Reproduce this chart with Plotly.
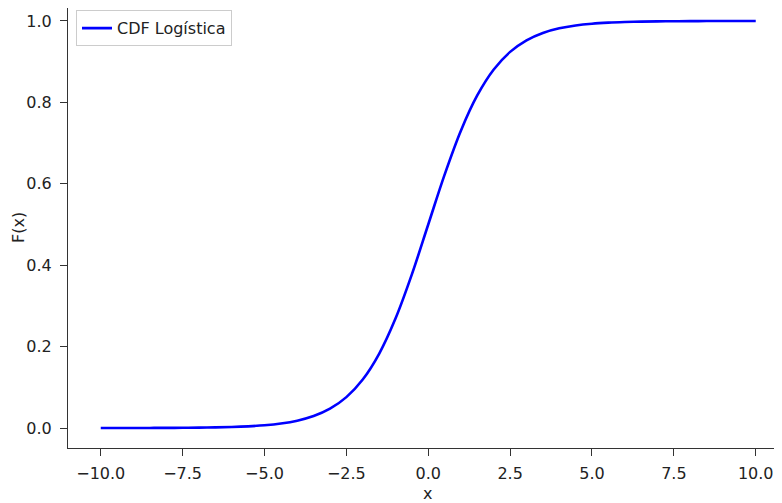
import plotly.graph_objects as go

# values
x_vals = [-10.0, -9.5, -9.0, -8.5, -8.0, -7.5, -7.0, -6.5, -6.0, -5.5, -5.0,
          -4.5, -4.0, -3.5, -3.0, -2.5, -2.0, -1.5, -1.0, -0.5, 0.0,
          0.5, 1.0, 1.5, 2.0, 2.5, 3.0, 3.5, 4.0, 4.5, 5.0,
          5.5, 6.0, 6.5, 7.0, 7.5, 8.0, 8.5, 9.0, 9.5, 10.0]
cdf_vals = [0.0000, 0.0001, 0.0001, 0.0002, 0.0003, 0.0006, 0.0009, 0.0015, 0.0025, 0.0041, 0.0067,
            0.0110, 0.0180, 0.0293, 0.0474, 0.0759, 0.1192, 0.1824, 0.2689, 0.3775, 0.5000,
            0.6225, 0.7311, 0.8176, 0.8808, 0.9241, 0.9526, 0.9707, 0.9820, 0.9890, 0.9933,
            0.9959, 0.9975, 0.9985, 0.9991, 0.9994, 0.9997, 0.9998, 0.9999, 0.9999, 1.0000]
x_ticks = [-10.0, -7.5, -5.0, -2.5, 0.0, 2.5, 5.0, 7.5, 10.0]
x_tick_labels = ["−10.0", "−7.5", "−5.0", "−2.5", "0.0", "2.5", "5.0", "7.5", "10.0"]
y_ticks = [0.0, 0.2, 0.4, 0.6, 0.8, 1.0]
y_tick_labels = ["0.0", "0.2", "0.4", "0.6", "0.8", "1.0"]
series_name = "CDF Logística"
x_title = "x"
y_title = "F(x)"

fig = go.Figure()
fig.add_trace(go.Scatter(x=x_vals, y=cdf_vals, mode="lines", name=series_name,
                         line=dict(color="#0000ff", width=2.6, shape="spline")))

font_fam = "DejaVu Sans"
fs = 16
axis_common = dict(showgrid=False, zeroline=False, showline=True, linecolor="#333333",
                   linewidth=1.2, ticks="outside", ticklen=7, tickwidth=1.1,
                   tickcolor="#333333", mirror=False, automargin=False,
                   tickfont=dict(family=font_fam, size=fs, color="#222222"))

fig.update_layout(
    width=774, height=495,
    margin=dict(l=60, r=0, t=0, b=55, autoexpand=False),
    plot_bgcolor="white", paper_bgcolor="white",
    font=dict(family=font_fam, size=fs, color="#222222"),
    xaxis=dict(range=[-11, 10.802], tickvals=x_ticks, ticktext=x_tick_labels,
               ticklabelstandoff=4, **axis_common),
    yaxis=dict(range=[-0.0491, 1.0319], tickvals=y_ticks, ticktext=y_tick_labels,
               ticklabelstandoff=5, **axis_common),
    showlegend=True,
    legend=dict(x=0.0112, y=0.995, xanchor="left", yanchor="top",
                bgcolor="rgba(255,255,255,0.8)", bordercolor="#cccccc", borderwidth=1,
                font=dict(family=font_fam, size=fs, color="#222222")),
    annotations=[
        dict(text=x_title, xref="paper", yref="paper", x=0.5042, y=-0.1023,
             xanchor="center", yanchor="middle", showarrow=False,
             font=dict(family=font_fam, size=fs, color="#222222")),
        dict(text=y_title, xref="paper", yref="paper", x=-0.0700, y=0.5,
             xanchor="center", yanchor="middle", textangle=-90, showarrow=False,
             font=dict(family=font_fam, size=fs, color="#222222")),
    ],
)

fig.write_html("out.html")
